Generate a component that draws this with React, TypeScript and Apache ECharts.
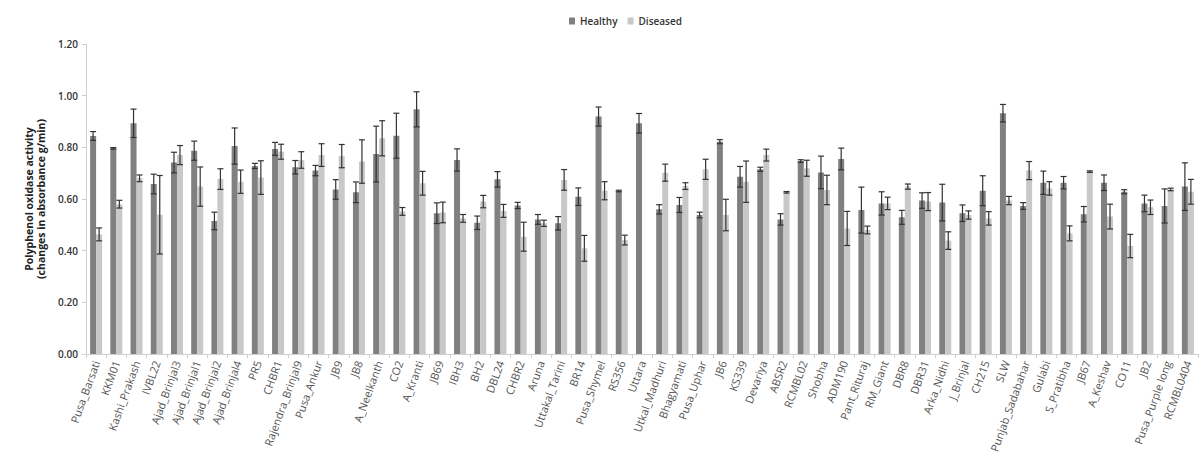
import React, { useEffect, useRef } from "react";
import * as echarts from "echarts";

const categories = [
  "Pusa_Barsati", "KKM01", "Kashi_Prakash", "IVBL22", "Ajad_Brinjal3", "Ajad_Brinjal1",
  "Ajad_Brinjal2", "Ajad_Brinjal4", "PR5", "CHBR1", "Rajendra_Brinjal9", "Pusa_Ankur",
  "JB9", "JB8", "A_Neelkanth", "CO2", "A_Kranti", "JB69", "IBH3", "BH2", "DBL24", "CHBR2",
  "Aruna", "Uttakal_Tarini", "BR14", "Pusa_Shymel", "RS356", "Uttara", "Utkal_Madhuri",
  "Bhagyamati", "Pusa_Uphar", "JB6", "KS339", "Devariya", "ABSR2", "RCMBL02", "Shobha",
  "ADM190", "Pant_Rituraj", "RM_Giant", "DBR8", "DBR31", "Arka_Nidhi", "J_Brinjal", "CH215",
  "SLW", "Punjab_Sadabahar", "Gulabi", "S_Pratibha", "JB67", "A_Keshav", "CO11", "JB2",
  "Pusa_Purple long", "RCMBL0404",
];

const healthy = [
  0.844, 0.796, 0.893, 0.658, 0.741, 0.787, 0.515, 0.805, 0.728, 0.794, 0.723, 0.71,
  0.637, 0.626, 0.774, 0.845, 0.947, 0.545, 0.751, 0.508, 0.676, 0.575, 0.521, 0.506,
  0.609, 0.919, 0.631, 0.893, 0.56, 0.577, 0.538, 0.822, 0.686, 0.715, 0.521, 0.747,
  0.703, 0.755, 0.557, 0.583, 0.529, 0.594, 0.586, 0.545, 0.632, 0.932, 0.573, 0.663,
  0.663, 0.541, 0.663, 0.628, 0.583, 0.573, 0.648,
];
const healthyErr = [
  0.017, 0.003, 0.055, 0.038, 0.04, 0.037, 0.034, 0.07, 0.01, 0.025, 0.026, 0.02,
  0.038, 0.04, 0.108, 0.087, 0.068, 0.04, 0.043, 0.026, 0.03, 0.012, 0.019, 0.026,
  0.034, 0.037, 0.003, 0.038, 0.018, 0.029, 0.011, 0.008, 0.04, 0.008, 0.022, 0.005,
  0.063, 0.042, 0.089, 0.045, 0.027, 0.03, 0.071, 0.032, 0.058, 0.034, 0.013, 0.045,
  0.024, 0.03, 0.03, 0.008, 0.032, 0.066, 0.092,
];
const diseased = [
  0.463, 0.58, 0.68, 0.539, 0.77, 0.648, 0.677, 0.667, 0.683, 0.783, 0.751, 0.77,
  0.766, 0.745, 0.835, 0.552, 0.661, 0.548, 0.525, 0.59, 0.554, 0.454, 0.506, 0.674,
  0.409, 0.632, 0.441, 0, 0.702, 0.65, 0.715, 0.538, 0.667, 0.77, 0.626, 0.719,
  0.635, 0.486, 0.48, 0.583, 0.648, 0.59, 0.439, 0.538, 0.525, 0.594, 0.71, 0.641,
  0.467, 0.706, 0.532, 0.418, 0.568, 0.637, 0.628,
];
const diseasedErr = [
  0.025, 0.015, 0.013, 0.152, 0.037, 0.076, 0.04, 0.045, 0.065, 0.029, 0.032, 0.044,
  0.045, 0.084, 0.068, 0.015, 0.046, 0.04, 0.015, 0.024, 0.025, 0.056, 0.012, 0.04,
  0.05, 0.035, 0.019, 0, 0.033, 0.013, 0.039, 0.061, 0.08, 0.023, 0.003, 0.031,
  0.057, 0.066, 0.015, 0.024, 0.01, 0.035, 0.034, 0.016, 0.026, 0.016, 0.035, 0.026,
  0.029, 0.003, 0.048, 0.045, 0.028, 0.005, 0.048,
];
const yTicks = ["0.00", "0.20", "0.40", "0.60", "0.80", "1.00", "1.20"];

const FONT = "'Open Sans', 'Liberation Sans', sans-serif";
const BAR_W = 6;

function errorSeries(name: string, vals: number[], errs: number[], offset: number) {
  return {
    type: "custom",
    name: name + " err",
    silent: true,
    z: 5,
    encode: { x: 0, y: 1 },
    data: vals.map((v, i) => [i, v, errs[i]]),
    renderItem: (params: any, api: any) => {
      const i = api.value(0);
      const v = api.value(1);
      const e = api.value(2);
      if (!v) return null;
      const top = api.coord([i, v + e]);
      const bot = api.coord([i, v - e]);
      const x = top[0] + offset;
      const style = { stroke: "#333333", lineWidth: 1.2 };
      const cap = 3;
      return {
        type: "group",
        children: [
          { type: "line", shape: { x1: x, y1: top[1], x2: x, y2: bot[1] }, style },
          { type: "line", shape: { x1: x - cap, y1: top[1], x2: x + cap, y2: top[1] }, style },
          { type: "line", shape: { x1: x - cap, y1: bot[1], x2: x + cap, y2: bot[1] }, style },
        ],
      };
    },
  };
}

export default function App() {
  const ref = useRef<HTMLDivElement>(null);
  useEffect(() => {
    if (!ref.current) return;
    const chart = echarts.init(ref.current, null, { renderer: "svg" });
    chart.setOption({
      animation: false,
      backgroundColor: "#ffffff",
      legend: {
        top: 11,
        left: 564,
        itemWidth: 6,
        itemHeight: 7,
        itemGap: 10,
        textStyle: { fontFamily: FONT, fontSize: 10, color: "#333", fontWeight: 600 },
        data: [
          { name: "Healthy", icon: "rect" },
          { name: "Diseased", icon: "rect" },
        ],
      },
      grid: { left: 86, right: 6, top: 44, bottom: 111, containLabel: false },
      xAxis: {
        type: "category",
        data: categories,
        axisLine: { lineStyle: { color: "#d0d0d0" } },
        axisTick: { show: true, alignWithLabel: false, length: 4, lineStyle: { color: "#d0d0d0" } },
        axisLabel: {
          interval: 0,
          rotate: 70,
          fontFamily: FONT,
          fontSize: 11,
          color: "#555",
          margin: 7,
        },
      },
      yAxis: {
        type: "value",
        min: 0,
        max: 1.2,
        interval: 0.2,
        name: "Polyphenol oxidase activity\n(changes in absorbance g/min)",
        nameLocation: "middle",
        nameGap: 38,
        nameTextStyle: { fontFamily: FONT, fontSize: 10.5, fontWeight: "bold", color: "#222", lineHeight: 12 },
        axisLine: { show: true, lineStyle: { color: "#d0d0d0" } },
        axisTick: { show: true, length: 4, lineStyle: { color: "#d0d0d0" } },
        splitLine: { show: false },
        axisLabel: {
          fontFamily: FONT,
          fontSize: 10,
          fontWeight: 600,
          color: "#333",
          margin: 8,
          formatter: (v: number) => yTicks[Math.round(v / 0.2)] ?? v.toFixed(2),
        },
      },
      series: [
        {
          type: "bar",
          name: "Healthy",
          data: healthy,
          barWidth: BAR_W,
          barGap: "0%",
          itemStyle: { color: "#808080" },
        },
        {
          type: "bar",
          name: "Diseased",
          data: diseased,
          barWidth: BAR_W,
          barGap: "0%",
          itemStyle: { color: "#c8c8c8" },
        },
        errorSeries("Healthy", healthy, healthyErr, -BAR_W / 2),
        errorSeries("Diseased", diseased, diseasedErr, BAR_W / 2),
      ],
    });
    return () => chart.dispose();
  }, []);
  return (
    <div
      ref={ref}
      style={{ position: "absolute", left: 0, top: 0, width: 1204, height: 465 }}
    />
  );
}
